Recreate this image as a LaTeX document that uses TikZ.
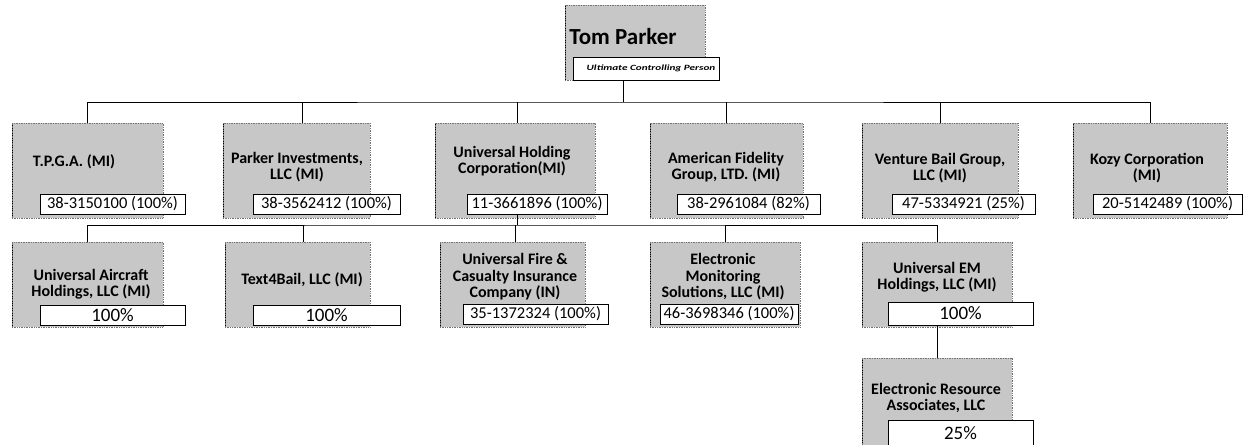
\documentclass[tikz,border=0pt]{standalone}
\usepackage{fontspec}
\setmainfont{Carlito}
\usepackage{graphicx}
\newcommand\labfont{\fontsize{16}{16.5}\selectfont\bfseries}
\newcommand\numfont{\fontsize{16.5}{18}\selectfont}
\newcommand\pctfont{\fontsize{19}{20}\selectfont}
\newcommand\tpfont{\fontsize{23}{24}\selectfont\bfseries}
\newcommand\ucpfont{\fontsize{8}{9}\selectfont\bfseries\itshape}
\begin{document}
\begin{tikzpicture}[x=1pt,y=-1pt,
  gbox/.style={rectangle, anchor=north west, inner sep=0pt, outer sep=0pt,
    fill=black!22, draw=black!55, densely dotted, line width=0.7pt,
    path picture={\draw[black, solid, line width=1.8pt]
      (path picture bounding box.north west) -- (path picture bounding box.south west);}},
  nbox/.style={rectangle, anchor=north west, inner sep=0pt, outer sep=0pt,
    fill=white, draw=black, line width=0.9pt, font=\numfont},
  pbox/.style={nbox, font=\pctfont},
  lab/.style={align=center, inner sep=0pt, font=\labfont},
  conn/.style={draw=black, line width=0.9pt}]
\useasboundingbox[fill=white] (0,0) rectangle (1246,444);

% top
\node[gbox, minimum width=140, minimum height=75] (tp) at (565,5) {};
\node[font=\tpfont, inner sep=0pt] (tpt) at (623,37) {Tom Parker};
\node[nbox, minimum width=146, minimum height=23, font=\ucpfont] (ucp) at (573,57)
  {\hspace*{10pt}\scalebox{1.4}[1]{Ultimate Controlling Person}};

% row 1
\node[gbox, minimum width=151, minimum height=95] (tpga) at (12,123) {};
\node[gbox, minimum width=147, minimum height=95] (parker) at (223,123) {};
\node[gbox, minimum width=160, minimum height=95] (uhc) at (435,123) {};
\node[gbox, minimum width=153, minimum height=95] (afg) at (650,123) {};
\node[gbox, minimum width=156, minimum height=95] (vbg) at (862,123) {};
\node[gbox, minimum width=154, minimum height=95] (kozy) at (1073,123) {};

\node[lab] (tpgaL) at (74,162) {T.P.G.A. (MI)};
\node[lab] (parkerL) at (297,167) {Parker Investments,\\LLC (MI)};
\node[lab] (uhcL) at (512,161) {Universal Holding\\Corporation(MI)};
\node[lab] (afgL) at (726,167) {American Fidelity\\Group, LTD. (MI)};
\node[lab] (vbgL) at (940,168) {Venture Bail Group,\\LLC (MI)};
\node[lab] (kozyL) at (1147,168) {Kozy Corporation\\(MI)};

\node[nbox, minimum width=145, minimum height=20] (tpgan) at (40,194) {38-3150100 (100\%)};
\node[nbox, minimum width=147, minimum height=20] (parkern) at (253,194) {38-3562412 (100\%)};
\node[nbox, minimum width=140, minimum height=20] (uhcn) at (467,194) {11-3661896 (100\%)};
\node[nbox, minimum width=143, minimum height=20] (afgn) at (677,194) {38-2961084 (82\%)};
\node[nbox, minimum width=143, minimum height=20] (vbgn) at (892,194) {47-5334921 (25\%)};
\node[nbox, minimum width=149, minimum height=20] (kozyn) at (1093,194) {20-5142489 (100\%)};

% row 2
\node[gbox, minimum width=151, minimum height=85] (ua) at (12,242) {};
\node[gbox, minimum width=145, minimum height=85] (t4b) at (225,242) {};
\node[gbox, minimum width=145, minimum height=85] (uf) at (440,242) {};
\node[gbox, minimum width=150, minimum height=85] (ems) at (650,242) {};
\node[gbox, minimum width=150, minimum height=85] (uem) at (862,242) {};

\node[lab] (uaL) at (91,284) {Universal Aircraft\\Holdings, LLC (MI)};
\node[lab] (t4bL) at (302,280) {Text4Bail, LLC (MI)};
\node[lab] (ufL) at (515,277) {Universal Fire \&\\Casualty Insurance\\Company (IN)};
\node[lab] (emsL) at (723,277) {Electronic\\Monitoring\\Solutions, LLC (MI)};
\node[lab] (uemL) at (937,277) {Universal EM\\Holdings, LLC (MI)};

\node[pbox, minimum width=145, minimum height=20] (uan) at (40,305) {100\%};
\node[pbox, minimum width=147, minimum height=20] (t4bn) at (253,305) {100\%};
\node[nbox, minimum width=145, minimum height=20] (ufn) at (463,304) {35-1372324 (100\%)};
\node[nbox, minimum width=138, minimum height=20] (emsn) at (660,304) {46-3698346 (100\%)};
\node[pbox, minimum width=145, minimum height=23] (uemn) at (888,302) {100\%};

% row 3
\node[gbox, minimum width=150, minimum height=100] (era) at (862,358) {};
\node[lab] (eraL) at (936,398) {Electronic Resource\\Associates, LLC};
\node[pbox, minimum width=145, minimum height=26] (eran) at (888,420) {25\%};

% connectors
\coordinate (bar1) at (622,102);
\coordinate (bar2) at (517,225);
\draw[conn] (tpt |- tp.south) -- (tpt |- bar1);
\draw[conn] (tpga.north) |- (bar1) -| (kozy.north);
\draw[conn] ([xshift=6pt]parker.north) -- ([xshift=6pt]parker.north |- bar1);
\draw[conn] ([xshift=2pt]uhc.north) -- ([xshift=2pt]uhc.north |- bar1);
\draw[conn] (afg.north) -- (afg.north |- bar1);
\draw[conn] (vbg.north) -- (vbg.north |- bar1);

\draw[conn] ([xshift=2pt]uhc.north |- uhcn.south) -- ([xshift=2pt]uhc.north |- bar2);
\draw[conn] (ua.north) |- (bar2) -| (uem.north);
\draw[conn] ([xshift=6pt]t4b.north) -- ([xshift=6pt]t4b.north |- bar2);
\draw[conn] ([xshift=3pt]uf.north) -- ([xshift=3pt]uf.north |- bar2);
\draw[conn] (ems.north) -- (ems.north |- bar2);
\draw[conn] (uem.north |- uemn.south) -- (era.north);
\end{tikzpicture}
\end{document}
